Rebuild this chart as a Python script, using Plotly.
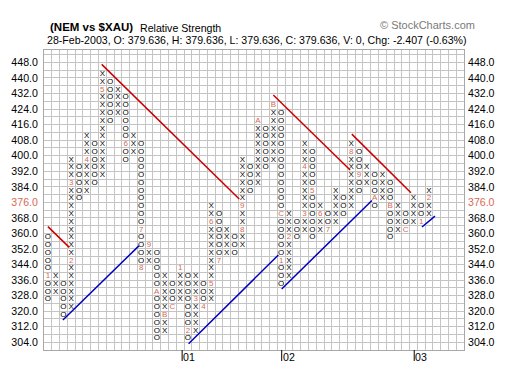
import plotly.graph_objects as go

# ---------------- data ----------------
# column types (X = rising, O = falling), 3-box reversal, box size 4
col_types = list("OXOXOXOXOXOXOXOXOXOXOXOXOXOXOXOXOXOXOXOXOXOXOXOXOX")
# lowest and highest box (lower edge value of the box) for every column
col_low = [324, 328, 316, 320, 376, 380, 384, 388, 416, 420,
           396, 400, 340, 344, 304, 308, 320, 324, 304, 308,
           320, 324, 344, 348, 348, 352, 380, 384, 392, 396,
           332, 336, 356, 360, 356, 360, 360, 364, 368, 372,
           380, 384, 372, 376, 356, 360, 360, 364, 364, 368]
col_high = [356, 336, 332, 396, 392, 408, 404, 440, 436, 432,
            428, 408, 404, 352, 348, 336, 332, 340, 336, 336,
            332, 372, 368, 360, 356, 396, 392, 416, 412, 424,
            420, 368, 364, 404, 400, 372, 368, 380, 376, 404,
            400, 392, 388, 388, 384, 372, 368, 376, 372, 380]
box_size = 4

# month markers (column, box, label) replacing the X/O of that box
month_col = [0, 3, 3, 5, 7, 10, 12, 12, 13, 14, 15, 16,
             17, 18, 19, 20, 21, 21, 22, 25, 25, 27, 29, 30,
             30, 31, 33, 33, 34, 35, 36, 39, 40, 42, 44, 46,
             48, 49]
month_box = [336, 344, 384, 396, 432, 404, 360, 340, 352, 328, 316, 320,
             340, 308, 324, 320, 332, 364, 344, 360, 372, 416, 424, 368,
             344, 356, 368, 392, 380, 368, 360, 400, 388, 376, 372, 360,
             364, 376]
month_txt = ["1", "2", "3", "4", "5", "6", "7", "8", "9", "A", "B", "C",
             "1", "2", "3", "4", "5", "6", "7", "8", "9", "A", "B", "C",
             "1", "2", "3", "4", "5", "6", "7", "8", "9", "A", "B", "C",
             "1", "2"]

# trend lines: (start column, start value, end column, end value)
red_lines = [(0.0, 363.5, 2.75, 352.8),
             (6.92, 447.0, 24.6, 377.7),
             (28.98, 431.2, 38.86, 392.6),
             (39.08, 411.1, 46.68, 380.9)]
blue_lines = [(1.93, 315.4, 11.7, 353.6),
              (18.09, 303.2, 29.63, 348.9),
              (30.06, 331.4, 41.66, 376.9),
              (48.1, 363.3, 49.77, 368.9)]

# y labels and year marks
y_labels = [448, 440, 432, 424, 416, 408, 400, 392, 384, 376,
            368, 360, 352, 344, 336, 328, 320, 312, 304]
last_label = 376
year_cols = [17.26, 30.06, 47.1]
year_txt = ["01", "02", "03"]
n_cols = 54
y_min, y_max = 300, 454.4

# ---------------- build marks ----------------
marked = set(zip(month_col, month_box))
xo_x, xo_y, xo_t = [], [], []
for i, (t, lo, hi) in enumerate(zip(col_types, col_low, col_high)):
    b = lo
    while b <= hi:
        if (i, b) not in marked:
            xo_x.append(i)
            xo_y.append(b + box_size / 2)
            xo_t.append(t)
        b += box_size

font_fam = "Liberation Sans, Arial, sans-serif"
fig = go.Figure()
fig.add_trace(go.Scatter(
    x=xo_x, y=xo_y, text=xo_t, mode="text",
    textfont=dict(family=font_fam, size=8, color="#000000"),
    hoverinfo="skip", showlegend=False))
fig.add_trace(go.Scatter(
    x=month_col, y=[b + box_size / 2 for b in month_box], text=month_txt,
    mode="text",
    textfont=dict(family=font_fam, size=8, color="#d86a55"),
    hoverinfo="skip", showlegend=False))
for (c0, v0, c1, v1) in red_lines:
    fig.add_trace(go.Scatter(x=[c0, c1], y=[v0, v1], mode="lines",
                             line=dict(color="#cc0000", width=1.5),
                             hoverinfo="skip", showlegend=False))
for (c0, v0, c1, v1) in blue_lines:
    fig.add_trace(go.Scatter(x=[c0, c1], y=[v0, v1], mode="lines",
                             line=dict(color="#0000c0", width=1.5),
                             hoverinfo="skip", showlegend=False))
# invisible trace for right-hand axis
fig.add_trace(go.Scatter(x=[0], y=[y_min], yaxis="y2", mode="markers",
                         marker=dict(opacity=0), hoverinfo="skip",
                         showlegend=False))

tick_txt = []
for v in y_labels:
    s = "%.1f" % v
    if v == last_label:
        s = "<span style='color:#d86a55'>%s</span>" % s
    tick_txt.append(s)

grid_color = "#c4c4c4"
xgrid = [i - 0.5 for i in range(n_cols + 1)]
ygrid = list(range(y_min, int(y_max) + 1, box_size))

fig.update_layout(
    width=520, height=380,
    margin=dict(l=44, r=56, t=50, b=30),
    paper_bgcolor="white", plot_bgcolor="white",
    font=dict(family=font_fam, size=10.6, color="#000000"),
    hovermode=False,
    xaxis=dict(range=[-0.5, n_cols - 0.5], showticklabels=False,
               tickvals=xgrid, ticks="", showgrid=True, gridcolor=grid_color,
               gridwidth=1, zeroline=False, showline=True,
               linecolor="#a8a8a8", mirror=True),
    yaxis=dict(range=[y_min, y_max], tickvals=y_labels, ticktext=tick_txt,
               ticks="", showgrid=True, gridcolor=grid_color, zeroline=False,
               showline=True, linecolor="#a8a8a8", mirror=True,
               tickfont=dict(size=10.6), ticklabelstandoff=3,
               minor=dict(tickvals=ygrid, showgrid=True,
                          gridcolor=grid_color, ticks="")),
    yaxis2=dict(range=[y_min, y_max], overlaying="y", side="right",
                matches="y", tickvals=y_labels, ticktext=tick_txt, ticks="",
                showgrid=False, zeroline=False, tickfont=dict(size=10.6),
                ticklabelstandoff=3),
)

# year marks below the chart
for c, t in zip(year_cols, year_txt):
    fig.add_shape(type="line", xref="x", yref="paper", x0=c, x1=c,
                  y0=0, y1=-11 / 300, line=dict(color="#000000", width=1))
    fig.add_annotation(x=c, y=-7 / 300, xref="x", yref="paper", text=t,
                       showarrow=False, xanchor="left", yanchor="middle",
                       xshift=-1, font=dict(size=10.6))

# titles
fig.add_annotation(xref="paper", yref="paper", x=4 / 420, y=1 + 23 / 300,
                   text="<b>(NEM vs $XAU)</b>", showarrow=False,
                   xanchor="left", yanchor="middle",
                   font=dict(size=11.5, color="#000000"))
fig.add_annotation(xref="paper", yref="paper", x=94 / 420, y=1 + 22.3 / 300,
                   text="Relative Strength", showarrow=False,
                   xanchor="left", yanchor="middle",
                   font=dict(size=10.6, color="#000000"))
fig.add_annotation(xref="paper", yref="paper", x=1 / 420, y=1 + 9.5 / 300,
                   text="28-Feb-2003, O: 379.636, H: 379.636, L: 379.636, "
                        "C: 379.636, V: 0, Chg: -2.407 (-0.63%)",
                   showarrow=False, xanchor="left", yanchor="middle",
                   font=dict(size=10.6, color="#000000"))
fig.add_annotation(xref="paper", yref="paper", x=334 / 420, y=1 + 25 / 300,
                   text="© StockCharts.com", showarrow=False,
                   xanchor="left", yanchor="middle",
                   font=dict(size=11, color="#7a7a7a"))

fig.write_html("out.html", config={"displayModeBar": False},
               post_script="document.body.style.margin='0px';"
                           "document.body.style.padding='0px';")
